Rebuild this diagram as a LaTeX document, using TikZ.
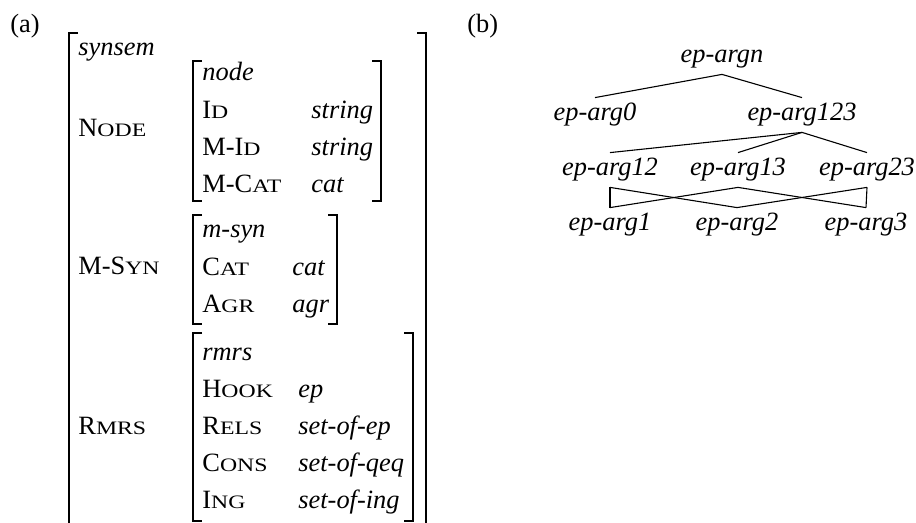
\documentclass[tikz,border=0pt]{standalone}
\usepackage{fontspec}
\setmainfont{Liberation Serif}
\newfontfamily\scwide[FakeStretch=1.25]{Liberation Serif}
\newcommand\avmsize{\fontsize{13.2pt}{15.5pt}\selectfont}
\newcommand\smcap[2]{#1{\scwide\fontsize{9.5pt}{10pt}\selectfont #2}}

\begin{document}
\begin{tikzpicture}[x=0.5pt,y=-0.5pt,
	every node/.style={font=\avmsize,inner sep=0pt},
	lbl/.style={anchor=base west},
	typ/.style={anchor=base,text height=11.5pt,text depth=5.5pt,font=\avmsize\itshape},
	brk/.style={line width=0.7pt},
	edge/.style={line width=0.55pt}]
\useasboundingbox (0,0) rectangle (916,523);
\clip (0,0) rectangle (916,523);

\node[lbl] (pa) at (10,33) {(a)};
\node[lbl] (pb) at (467,33) {(b)};

% brackets of the feature structure
\foreach \l\r\t\b in {69/426/33/600, 193/381/61/201, 193/337/215/324, 193/413/333/521}
{
	\draw[brk] (\l+9,\t) -- (\l,\t) -- (\l,\b) -- (\l+9,\b);
	\draw[brk] (\r-9,\t) -- (\r,\t) -- (\r,\b) -- (\r-9,\b);
}

\node[lbl] (synsem) at (78,56) {\textit{synsem}};
\foreach \a\c\d in {node/137/{\smcap{N}{ODE}},msyn/275/{M-\smcap{S}{YN}},rmrs/435/{\smcap{R}{MRS}}}
	\node[lbl] (f-\a) at (78,\c) {\d};

\foreach \a\b\c\d in {node/202/81/node,msyn/202/238/m-syn,rmrs/202/361/rmrs}
	\node[lbl] (t-\a) at (\b,\c) {\textit{\d}};

\foreach \a\b\c\d\e in {id/311/119/{\smcap{I}{D}}/string,mid/311/156/{M-\smcap{I}{D}}/string,mcat/311/193/{M-\smcap{C}{AT}}/cat,
	cat/292/276/{\smcap{C}{AT}}/cat,agr/292/313/{\smcap{A}{GR}}/agr,
	hook/298/398/{\smcap{H}{OOK}}/ep,rels/298/435/{\smcap{R}{ELS}}/set-of-ep,cons/298/472/{\smcap{C}{ONS}}/set-of-qeq,ing/298/509/{\smcap{I}{NG}}/set-of-ing}
{
	\node[lbl] (f-\a) at (202,\c) {\d};
	\node[lbl] (v-\a) at (\b,\c) {\textit{\e}};
}

% type hierarchy
\foreach \a\b\c in {argn/722/63,arg0/595/121,arg123/802/121,arg12/610/176,arg13/738/176,arg23/867/176,arg1/610/231,arg2/737/231,arg3/866/231}
	\node[typ] (\a) at (\b,\c) {ep-\a};

\foreach \from/\to in {argn/arg0,argn/arg123,arg123/arg12,arg123/arg13,arg123/arg23,arg12/arg1,arg12/arg2,arg13/arg1,arg13/arg3,arg23/arg2,arg23/arg3}
	\draw[edge] (\from.south) -- (\to.north);

\end{tikzpicture}
\end{document}
